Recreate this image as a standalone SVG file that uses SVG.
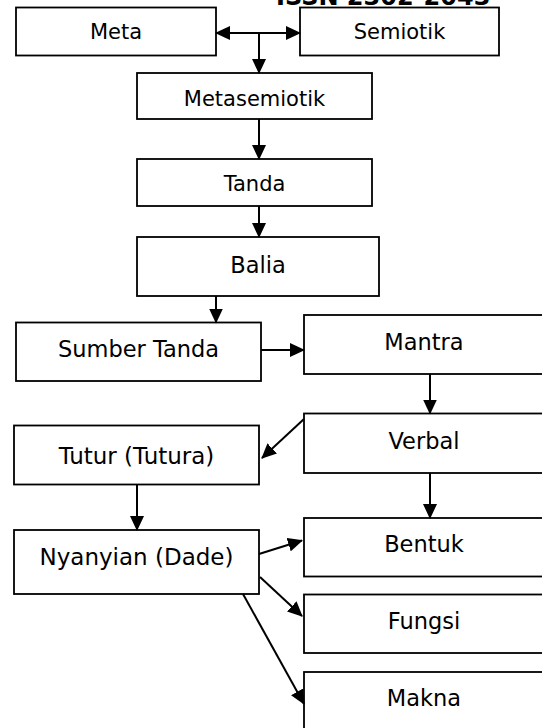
<svg xmlns="http://www.w3.org/2000/svg" width="542" height="728" viewBox="0 0 542 728">
<style>
.box{fill:#fff;stroke:#000;stroke-width:1.8}
.t{font-family:"DejaVu Sans","Liberation Sans",sans-serif;fill:#000;text-anchor:middle}
.s20{font-size:21px}
.s22{font-size:22.5px}
.s23{font-size:23px}
.c{fill:none;stroke:#000;stroke-width:2}
.hdr{font-family:"DejaVu Sans","Liberation Sans",sans-serif;font-size:24px;font-weight:bold;fill:#000}
</style>
<defs>
<marker id="ah" markerUnits="userSpaceOnUse" viewBox="0 0 15 14" markerWidth="15" markerHeight="14" refX="14" refY="7" orient="auto-start-reverse">
<path d="M0,0 L15,7 L0,14 z" fill="#000"/>
</marker>
</defs>
<text class="hdr" x="276" y="5">ISSN 2302-2043</text>
<g id="meta"><rect class="box" x="16" y="7.5" width="200" height="48"/><text class="t s20" x="116" y="39">Meta</text></g>
<g id="semiotik"><rect class="box" x="300" y="7.5" width="199" height="48"/><text class="t s20" x="399.5" y="39">Semiotik</text></g>
<g id="metasemiotik"><rect class="box" x="137" y="73" width="235" height="46"/><text class="t s20" x="254.5" y="106">Metasemiotik</text></g>
<g id="tanda"><rect class="box" x="137" y="159" width="235" height="47"/><text class="t s20" x="254.5" y="191">Tanda</text></g>
<g id="balia"><rect class="box" x="137" y="237" width="242" height="59"/><text class="t s22" x="258" y="273">Balia</text></g>
<g id="sumber-tanda"><rect class="box" x="16" y="322.5" width="245" height="58.5"/><text class="t s22" x="138.5" y="357">Sumber Tanda</text></g>
<g id="mantra"><rect class="box" x="304" y="315" width="240" height="59"/><text class="t s22" x="424" y="350">Mantra</text></g>
<g id="verbal"><rect class="box" x="304" y="413.5" width="240" height="59.5"/><text class="t s22" x="424" y="448.5">Verbal</text></g>
<g id="tutur"><rect class="box" x="14" y="425.5" width="245" height="59"/><text class="t s23" x="136.5" y="463.5">Tutur (Tutura)</text></g>
<g id="nyanyian"><rect class="box" x="14" y="530" width="245" height="64"/><text class="t s23" x="136.5" y="565">Nyanyian (Dade)</text></g>
<g id="bentuk"><rect class="box" x="304" y="518" width="240" height="58.5"/><text class="t s22" x="424" y="552">Bentuk</text></g>
<g id="fungsi"><rect class="box" x="304" y="594.5" width="240" height="58.5"/><text class="t s22" x="424" y="629">Fungsi</text></g>
<g id="makna"><rect class="box" x="304" y="672" width="240" height="70"/><text class="t s22" x="424" y="706">Makna</text></g>
<g id="connectors">
<path class="c" d="M216,33 H300" marker-start="url(#ah)" marker-end="url(#ah)"/>
<path class="c" d="M259,33 V73" marker-end="url(#ah)"/>
<path class="c" d="M259,119 V159" marker-end="url(#ah)"/>
<path class="c" d="M259,206 V237" marker-end="url(#ah)"/>
<path class="c" d="M216,296 V322.5" marker-end="url(#ah)"/>
<path class="c" d="M261,350 H304" marker-end="url(#ah)"/>
<path class="c" d="M430,374 V413.5" marker-end="url(#ah)"/>
<path class="c" d="M304,419 L262,458" marker-end="url(#ah)"/>
<path class="c" d="M137,484.5 V530" marker-end="url(#ah)"/>
<path class="c" d="M430,473 V518" marker-end="url(#ah)"/>
<path class="c" d="M259,554 L302,540.5" marker-end="url(#ah)"/>
<path class="c" d="M260,577 L302,616" marker-end="url(#ah)"/>
<path class="c" d="M243,594 L304,704" marker-end="url(#ah)"/>
</g>
</svg>
